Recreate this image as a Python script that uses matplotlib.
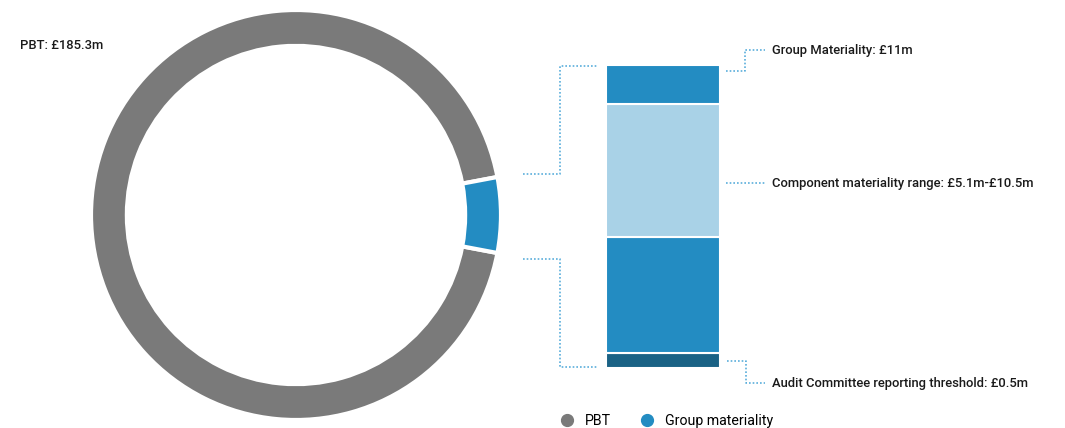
import matplotlib
matplotlib.use("Agg")
import matplotlib.pyplot as plt
from matplotlib.lines import Line2D

plt.rcParams['font.family'] = ['Roboto', 'DejaVu Sans']

# ---- data ----
pbt = 185.3
group_materiality = 11.0
donut_labels = ["PBT", "Group materiality"]
donut_colors = ["#7a7a7a", "#238cc2"]

# stacked bar segments (bottom -> top), heights (scale 0..11)
bar_segments = [0.55, 4.2, 4.85, 1.4]
bar_colors = ["#1a6285", "#238cc2", "#a9d2e7", "#238cc2"]

pbt_label = "PBT: £185.3m"
right_labels = ["Group Materiality: £11m",
                "Component materiality range: £5.1m-£10.5m",
                "Audit Committee reporting threshold: £0.5m"]

W, H = 1065, 428
fig = plt.figure(figsize=(W / 100, H / 100), dpi=100)

def px_axes(x0, y0, x1, y1):
    return fig.add_axes([x0 / W, 1 - y1 / H, (x1 - x0) / W, (y1 - y0) / H])

# ---- donut ----
ax1 = px_axes(91, 10, 501, 420)
vals = [pbt - group_materiality, group_materiality]
start = 180 * group_materiality / pbt
ax1.pie(vals, colors=donut_colors, startangle=start, radius=1.0,
        wedgeprops=dict(width=0.175, edgecolor="white", linewidth=3))
ax1.set_xlim(-1, 1)
ax1.set_ylim(-1, 1)
ax1.set_aspect("equal")
ax1.axis("off")

# ---- stacked bar ----
ax2 = px_axes(606, 65, 720, 368)
bottom = 0
for v, c in zip(bar_segments, bar_colors):
    ax2.bar([0], [v], bottom=bottom, width=1.0, color=c, edgecolor="white", linewidth=1.5)
    bottom += v
ax2.set_xlim(-0.5, 0.5)
ax2.set_ylim(0, sum(bar_segments))
ax2.axis("off")

# ---- overlay for connectors and text ----
ov = fig.add_axes([0, 0, 1, 1])
ov.set_xlim(0, W)
ov.set_ylim(H, 0)
ov.axis("off")
ov.patch.set_alpha(0)

lc = "#5aaedb"
kw = dict(color=lc, linestyle=(0, (1, 1.2)), linewidth=1.2)
ov.plot([523, 560, 560, 598], [174, 174, 66, 66], **kw)
ov.plot([523, 560, 560, 598], [259, 259, 367, 367], **kw)
ov.plot([726, 745, 745, 765], [71, 71, 50, 50], **kw)
ov.plot([726, 766], [183, 183], **kw)
ov.plot([727, 746, 746, 765], [361, 361, 383, 383], **kw)

tk = dict(fontsize=9.4, color="#1a1a1a", va="center", ha="left", fontweight="medium")
ov.text(772, 50, right_labels[0], **tk)
ov.text(772, 183, right_labels[1], **tk)
ov.text(772, 383, right_labels[2], **tk)
ov.text(20, 45, pbt_label, **tk)

handles = [Line2D([], [], marker="o", linestyle="none", markersize=8.5,
                  markerfacecolor=c, markeredgecolor=c) for c in donut_colors]
fig.legend(handles, donut_labels, loc="center", bbox_to_anchor=(663 / W, 1 - 421 / H),
           ncol=2, frameon=False, fontsize=10.2, handletextpad=0.3, columnspacing=1.5)

fig.savefig("out.png", dpi=100)
